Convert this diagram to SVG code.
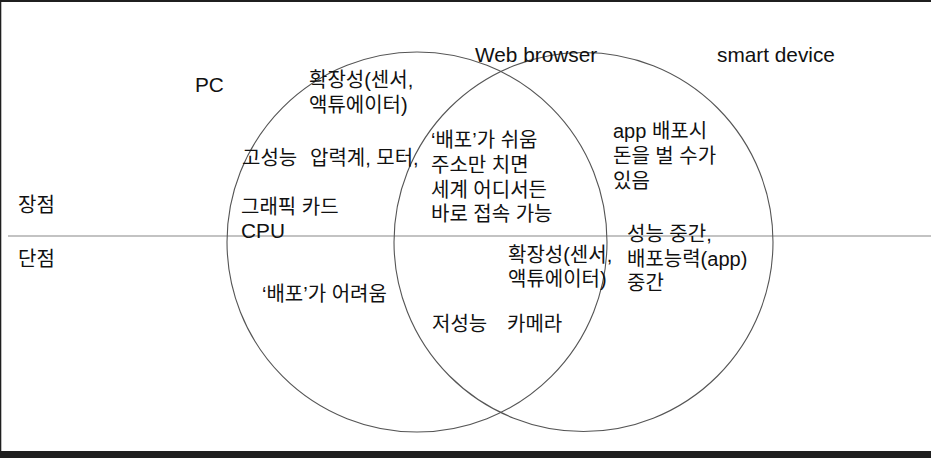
<svg xmlns="http://www.w3.org/2000/svg" width="931" height="458" viewBox="0 0 931 458">
<style>
text{font-family:"Liberation Sans","Noto Sans CJK KR",sans-serif;font-size:20px;fill:#111}
text.l{font-size:20.8px}
.c{fill:none;stroke:#555;stroke-width:1.1}
.d{stroke:#888;stroke-width:1.2}
</style>
<rect x="0" y="0" width="931" height="458" fill="#ffffff"/>
<rect x="0" y="0" width="931" height="2" fill="#1f1f1f"/>
<rect x="0" y="0" width="1.3" height="458" fill="#1f1f1f"/>
<rect x="0" y="451" width="931" height="7" fill="#1f1f1f"/>
<g id="connectors">
<line class="d" x1="8" y1="236" x2="931" y2="236"/>
</g>
<g id="pc-circle"><circle class="c" cx="417" cy="242" r="190"/></g>
<g id="smart-circle"><circle class="c" cx="583.5" cy="242" r="189.5"/></g>
<g id="labels">
<text class="l" x="195" y="92">PC</text>
<text class="l" x="475" y="62">Web browser</text>
<text class="l" x="717" y="62">smart device</text>
<text x="18" y="212">장점</text>
<text x="18" y="266">단점</text>
</g>
<g id="pc-pros">
<text x="309" y="87">확장성(센서,</text>
<text x="309" y="112">액튜에이터)</text>
<text x="242" y="165">고성능</text>
<text x="310" y="165">압력계, 모터,</text>
<text x="241" y="214">그래픽 카드</text>
<text class="l" x="241" y="238">CPU</text>
</g>
<g id="web-pros">
<text x="431" y="147">‘배포’가 쉬움</text>
<text x="431" y="172">주소만 치면</text>
<text x="431" y="197">세계 어디서든</text>
<text x="431" y="221">바로 접속 가능</text>
</g>
<g id="smart-pros">
<text x="613" y="138">app 배포시</text>
<text x="613" y="163">돈을 벌 수가</text>
<text x="613" y="188">있음</text>
</g>
<g id="smart-cons">
<text x="627" y="241">성능 중간,</text>
<text x="627" y="266">배포능력(app)</text>
<text x="627" y="290">중간</text>
</g>
<g id="pc-cons"><text x="262" y="301">‘배포’가 어려움</text></g>
<g id="web-cons">
<text x="508" y="262">확장성(센서,</text>
<text x="508" y="286">액튜에이터)</text>
<text x="432" y="331">저성능</text>
<text x="507" y="331">카메라</text>
</g>
</svg>
